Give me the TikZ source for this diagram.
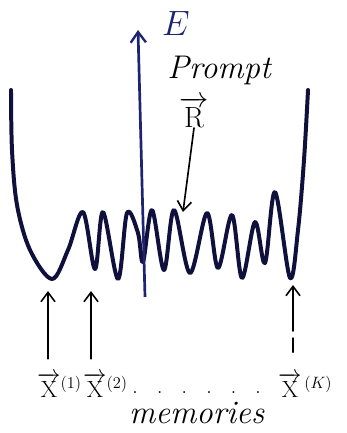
\RequirePackage{fix-cm}
\documentclass[tikz,border=0pt]{standalone}
\usepackage{fontspec}
\usepackage{amsmath}
\usetikzlibrary{arrows.meta,positioning}
\definecolor{inkblue}{HTML}{10103C}
\definecolor{penblue}{HTML}{1E2470}

\begin{document}
\begin{tikzpicture}[
    x=0.3mm, y=-0.3mm,
    landscape/.style={
        draw=inkblue,
        line width=3.4pt,
        line cap=round,
        line join=round
    },
    energyaxis/.style={
        -{Straight Barb[length=9pt,width=13pt,line width=2pt]},
        draw=penblue,
        line width=2.3pt
    },
    pointer/.style={-{Straight Barb[length=8pt,width=12pt]}, line width=1.4pt, line cap=round},
    handtext/.style={inner sep=0pt, font=\fontsize{28}{30}\selectfont\itshape},
    memlabel/.style={inner sep=0pt, anchor=base west, font=\fontsize{20}{24}\selectfont}
]
\useasboundingbox (0,0) rectangle (347,433);

% ---- Energy landscape ----
\draw[landscape] plot[smooth, tension=0.55] coordinates {
    (11,90) (12,150) (17,205) (30,250) (52,279) (68,250) (83,212)
    (95,269) (103,212) (118,279) (127,213) (138,233) (143,262)
    (152,210) (164,270) (174,210) (190,273) (207,213) (218,268)
    (232,215) (242,278) (255,222) (265,263) (275,192) (290,278)
    (298,230) (304,160) (308,90)};

% ---- Energy axis ----
\coordinate (axbot) at (145,297);
\coordinate (axtop) at (138,30);
\draw[energyaxis] (axbot) -- (axtop);
\node[inner sep=0pt, text=penblue, font=\fontsize{30}{32}\selectfont] (energy) at (176,23) {$E$};

% ---- Prompt ----
\node[handtext] (prompt) at (219,70) {Prompt};
\node[inner sep=0pt, font=\fontsize{25}{28}\selectfont, below=3.5mm of prompt, xshift=-7.5mm] (rvec) {$\overrightarrow{\mathrm{R}}$};
\coordinate (rtip) at (183,212);
\draw[pointer] (rvec.south) -- (rtip);

% ---- Memories ----
\node[memlabel] (x1) at (37,397) {$\overrightarrow{\mathrm{X}}^{(1)}$};
\node[memlabel] (x2) at (83,397) {$\overrightarrow{\mathrm{X}}^{(2)}$};
\node[memlabel] (dots) at (132,393) {.\hspace{16pt}.\hspace{16pt}.\hspace{16pt}.\hspace{16pt}.\hspace{16pt}.};
\node[memlabel] (xk) at (278,397) {$\overrightarrow{\mathrm{X}}^{\,(K)}$};
\node[handtext, below=2.5mm of dots] (memories) {memories};

\coordinate (m1) at (48,291);
\coordinate (m2) at (91,291);
\coordinate (mk) at (293,285);

\draw[pointer, shorten <=4mm] (m1 |- x1.north) -- (m1);
\draw[pointer, shorten <=4mm] (m2 |- x2.north) -- (m2);
\draw[pointer, shorten <=6mm, dash pattern=on 12pt off 6pt on 60pt] (mk |- xk.north) -- (mk);

\end{tikzpicture}
\end{document}
